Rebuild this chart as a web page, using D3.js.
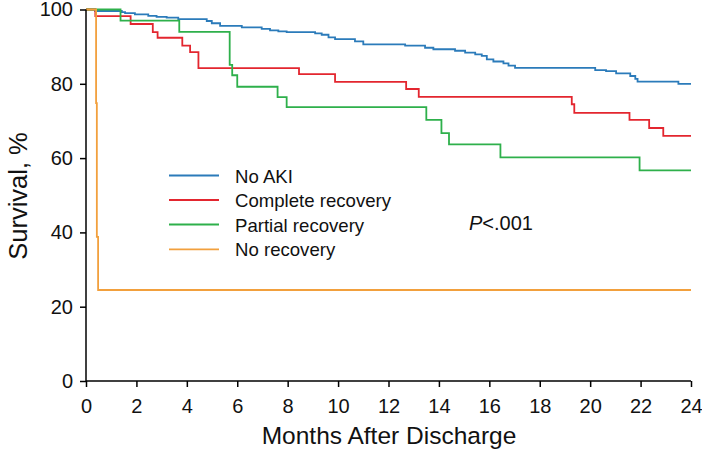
<!DOCTYPE html>
<html><head><meta charset="utf-8">
<script src="https://cdn.jsdelivr.net/npm/d3@7"></script>
<style>body{margin:0;background:#fff}svg{display:block}text{font-family:"Liberation Sans",Arial,sans-serif}</style>
</head><body>
<script>
const seriesNames = ["No AKI","Complete recovery","Partial recovery","No recovery"];
const seriesColors = ["#2b7bba","#e3262f","#2eb04b","#f2a03d"];
const noAkiTimes = [0,0.36,1.42,1.55,1.94,2.47,2.8,3.2,3.66,4.79,4.99,5.32,6.18,6.97,7.3,7.63,7.96,9.09,9.35,9.62,9.88,10.67,11.0,12.66,13.45,13.78,14.64,15.04,15.44,15.7,15.9,16.16,16.56,16.76,17.02,20.2,20.63,21.03,21.59,21.79,21.88,23.5];
const noAkiSurv  = [100,99.6,99.3,99.0,98.7,98.3,98.0,97.8,97.4,96.9,96.3,95.6,95.2,94.8,94.4,94.1,93.9,93.6,93.2,92.5,92.0,91.4,90.6,90.3,89.7,89.3,88.9,88.4,87.9,87.5,86.6,86.0,85.5,84.9,84.3,83.7,83.4,82.8,82.1,81.3,80.6,80.0];
const completeTimes = [0,0.37,1.77,2.65,2.84,3.82,4.13,4.46,8.45,9.88,12.7,13.2,19.27,19.37,21.56,22.34,22.9];
const completeSurv  = [100,98.2,96.1,93.9,92.4,90.3,88.5,84.2,82.6,80.5,78.6,76.5,74.5,72.2,70.3,68.1,66.0];
const partialTimes = [0,1.37,3.7,5.7,5.8,6.0,7.6,7.96,13.5,14.1,14.4,16.44,21.96];
const partialSurv  = [100,97.0,94.0,85.1,82.3,79.2,76.4,73.7,70.3,66.7,63.7,60.2,56.7];
const noRecTimes = [0,0.4,0.43,0.48];
const noRecSurv  = [100,74.8,38.8,24.5];
const xTicks = [0,2,4,6,8,10,12,14,16,18,20,22,24];
const yTicks = [0,20,40,60,80,100];
const pText = ".001";

const W=702,H=451;
const svg=d3.select("body").append("svg").attr("width",W).attr("height",H);
const x=d3.scaleLinear().domain([0,24]).range([86,691]);
const y=d3.scaleLinear().domain([0,100]).range([381,9.5]);

const series=[[noAkiTimes,noAkiSurv],[completeTimes,completeSurv],[partialTimes,partialSurv],[noRecTimes,noRecSurv]];
const line=d3.line().x(d=>x(d[0])).y(d=>y(d[1])).curve(d3.curveStepAfter);
series.forEach((s,i)=>{
  const pts=s[0].map((t,j)=>[t,s[1][j]]);
  pts.push([24,s[1][s[1].length-1]]);
  svg.append("path").datum(pts).attr("d",line).attr("fill","none")
    .attr("stroke",seriesColors[i]).attr("stroke-width",1.8);
});

const xa=svg.append("g").attr("transform","translate(0,381)")
  .call(d3.axisBottom(x).tickValues(xTicks).tickSize(6).tickPadding(12).tickFormat(d3.format("d")));
const ya=svg.append("g").attr("transform","translate(86,0)")
  .call(d3.axisLeft(y).tickValues(yTicks).tickSize(6).tickPadding(7).tickFormat(d3.format("d")));
[xa,ya].forEach(a=>{
  a.selectAll("path,line").attr("stroke","#000").attr("stroke-width",1.5);
  a.selectAll("text").attr("font-size",20).attr("fill","#111").attr("font-family","Liberation Sans, Arial, sans-serif");
});
ya.select(".domain").attr("d","M0,381V9.5");
xa.select(".domain").attr("d","M86,0H691");

svg.append("text").attr("x",389).attr("y",444).attr("text-anchor","middle")
  .attr("font-size",24.5).attr("fill","#111").text("Months After Discharge");
svg.append("text").attr("transform","translate(27,196) rotate(-90)").attr("text-anchor","middle")
  .attr("font-size",25.5).attr("fill","#111").text("Survival, %");

const ly=[175.5,200,224.5,249.3];
seriesNames.forEach((n,i)=>{
  svg.append("line").attr("x1",169).attr("x2",219).attr("y1",ly[i]).attr("y2",ly[i])
    .attr("stroke",seriesColors[i]).attr("stroke-width",1.8);
  svg.append("text").attr("x",235).attr("y",ly[i]+7).attr("font-size",18.6).attr("fill","#111").text(n);
});
const pt=svg.append("text").attr("x",469).attr("y",230).attr("font-size",20).attr("fill","#111");
pt.append("tspan").attr("font-style","italic").text("P");
pt.append("tspan").text("<"+pText);
</script>
</body></html>
